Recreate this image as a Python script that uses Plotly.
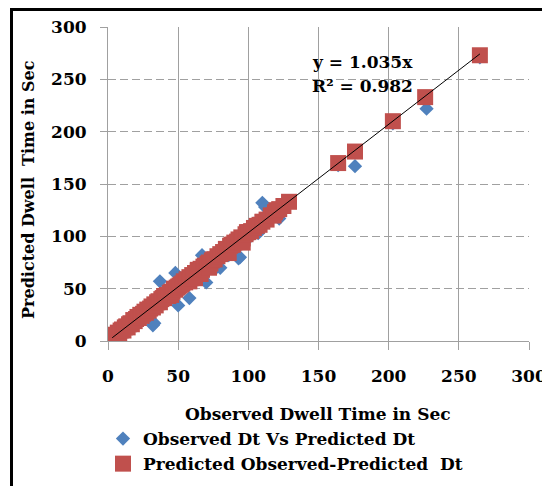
import plotly.graph_objects as go

# ---- data ----
obs_blue = [3, 5, 8, 10, 12, 14, 16, 18, 20, 22, 24, 26, 28, 30, 32, 33, 35, 37, 38, 40,
            42, 44, 46, 48, 50, 52, 54, 56, 58, 60, 62, 64, 67, 68, 70, 72, 75, 78, 80, 83,
            86, 90, 93, 94, 97, 100, 104, 107, 110, 112, 116, 122, 125, 164, 176, 203, 227, 265]
pred_blue = [2, 7, 6, 12, 10, 18, 14, 22, 18, 27, 21, 30, 25, 34, 15, 17, 38, 57, 35, 46,
             39, 50, 43, 65, 34, 57, 50, 62, 41, 64, 58, 70, 82, 64, 56, 78, 72, 71, 70, 88,
             82, 96, 79, 80, 104, 98, 112, 103, 132, 128, 124, 117, 127, 168, 167, 208, 222, 271]

obs_red = [0, 2, 3, 4, 5, 6, 7, 8, 9, 10, 11, 12, 13, 14, 15, 16, 17, 18, 19, 20, 21, 22, 23, 24,
           25, 26, 27, 28, 29, 30, 31, 32, 33, 34, 35, 36, 37, 38, 39, 40, 40, 41, 42, 43, 44,
           45, 45, 46, 47, 48, 49, 50, 51, 52, 53, 54, 55, 56, 57, 58, 58, 59, 60, 61, 62, 62,
           63, 64, 64, 65, 66, 66, 67, 68, 69, 70, 71, 72, 72, 73, 74, 75, 76, 78, 80, 82, 84,
           85, 86, 87, 88, 89, 90, 92, 93, 95, 96, 96, 98, 99, 100, 102, 104, 106, 108, 110,
           113, 116, 118, 119, 120, 122, 125, 129, 164, 176, 203, 226, 265]
pred_red = [1, 2, 4, 3, 6, 5, 8, 7, 10, 11, 10, 13, 14, 13, 16, 17, 16, 20, 19, 21, 23, 22, 25, 24,
            26, 28, 27, 30, 29, 31, 33, 32, 35, 34, 37, 38, 37, 40, 41, 41, 43, 43, 44, 43, 46,
            47, 44, 47, 50, 49, 51, 52, 53, 54, 55, 57, 56, 59, 58, 61, 57, 60, 63, 62, 65, 60,
            64, 67, 68, 66, 69, 64, 68, 71, 72, 71, 74, 75, 70, 74, 77, 78, 78, 81, 83, 85, 88,
            87, 84, 91, 92, 92, 94, 95, 97, 99, 98, 94, 102, 104, 104, 105, 108, 110, 111, 114,
            116, 120, 120, 123, 125, 126, 129, 133, 170, 181, 210, 233, 273]

trend_slope = 1.035
trend_label = "y = 1.035x"
r2_label = "R² = 0.982"

x_ticks = [0, 50, 100, 150, 200, 250, 300]
y_ticks = [0, 50, 100, 150, 200, 250, 300]

series_blue_name = "Observed Dt Vs Predicted Dt"
series_red_name = "Predicted Observed-Predicted  Dt"
x_title = "Observed Dwell Time in Sec"
y_title = "Predicted Dwell  Time in Sec"

# ---- figure ----
FONT = "DejaVu Serif"
BLUE = "#4F81BD"
RED = "#C0504D"
GRID = "#A0A0A0"

fig = go.Figure()
fig.add_trace(go.Scatter(
    x=obs_blue, y=pred_blue, mode="markers", name=series_blue_name,
    marker=dict(symbol="diamond", size=11, color=BLUE, line=dict(width=0)),
))
fig.add_trace(go.Scatter(
    x=obs_red, y=pred_red, mode="markers", name=series_red_name,
    marker=dict(symbol="square", size=16, color=RED, line=dict(width=0)),
))
xmin = min(obs_red + obs_blue) + 3
xmax = max(obs_red + obs_blue)
fig.add_trace(go.Scatter(
    x=[xmin, xmax], y=[trend_slope * xmin, trend_slope * xmax], mode="lines",
    line=dict(color="black", width=1), showlegend=False, hoverinfo="skip",
))

# the page body has an 8px margin, so the figure is drawn 8px smaller and
# positions below are given in screen pixels, shifted by OFF
OFF = 8
W, H = 550 - OFF, 486 - OFF
PL, PR, PT, PB = 108, 529, 27, 341  # plot area in screen pixels
L, R, T, B = PL - OFF, W - (PR - OFF), PT - OFF, H - (PB - OFF)
pw = W - L - R
ph = H - T - B

def px(xs):
    return (xs - OFF - L) / pw

def py(ys):
    return (H - B - (ys - OFF)) / ph

fig.update_layout(
    width=W, height=H,
    margin=dict(l=L, r=R, t=T, b=B, autoexpand=False),
    paper_bgcolor="white", plot_bgcolor="white",
    font=dict(family=FONT, size=16, color="black"),
    showlegend=True,
    legend=dict(
        x=px(103), y=py(421), xanchor="left", yanchor="top",
        font=dict(family=FONT, size=17, color="black", weight="bold"),
        itemwidth=30, tracegroupgap=0, bgcolor="rgba(0,0,0,0)",
    ),
    xaxis=dict(
        range=[0, 300], tickvals=x_ticks, ticktext=[str(v) for v in x_ticks],
        showgrid=True, gridcolor=GRID, gridwidth=1,
        showline=True, linecolor=GRID, linewidth=1,
        ticks="outside", ticklen=8, tickcolor=GRID,
        zeroline=False, ticklabelstandoff=12,
        tickfont=dict(family=FONT, size=17, color="black", weight="bold"),
    ),
    yaxis=dict(
        range=[0, 300], tickvals=y_ticks, ticktext=[str(v) for v in y_ticks],
        showgrid=True, gridcolor=GRID, gridwidth=1, griddash="8px,4px",
        showline=True, linecolor=GRID, linewidth=1,
        ticks="outside", ticklen=7, tickcolor=GRID,
        zeroline=False, ticklabelstandoff=10,
        tickfont=dict(family=FONT, size=17, color="black", weight="bold"),
    ),
    annotations=[
        dict(text=f"<b>{trend_label}</b>", xref="paper", yref="paper", x=px(310), y=py(62),
             xanchor="left", yanchor="middle", showarrow=False,
             font=dict(family=FONT, size=17, color="black")),
        dict(text=f"<b>{r2_label}</b>", xref="paper", yref="paper", x=px(310), y=py(86),
             xanchor="left", yanchor="middle", showarrow=False,
             font=dict(family=FONT, size=17, color="black")),
        dict(text=f"<b>{x_title}</b>", xref="paper", yref="paper", x=px(318), y=py(414),
             xanchor="center", yanchor="middle", showarrow=False,
             font=dict(family=FONT, size=17, color="black")),
        dict(text=f"<b>{y_title}</b>", xref="paper", yref="paper", x=px(28), y=py(190),
             xanchor="center", yanchor="middle", showarrow=False, textangle=-90,
             font=dict(family=FONT, size=16, color="black")),
    ],
    shapes=[
        dict(type="rect", xref="paper", yref="paper",
             x0=px(11.5), x1=px(600), y0=py(600), y1=py(9.5),
             line=dict(color="black", width=3), fillcolor="rgba(0,0,0,0)", layer="above"),
    ],
)

fig.write_html("out.html")
